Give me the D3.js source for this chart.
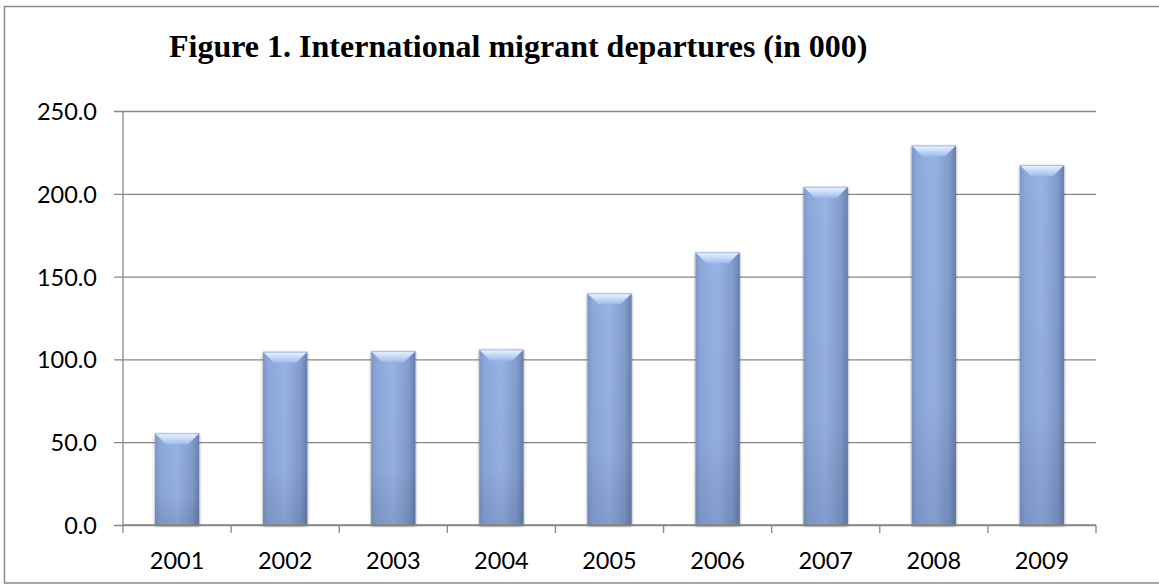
<!DOCTYPE html>
<html><head><meta charset="utf-8">
<script src="https://cdn.jsdelivr.net/npm/d3@7"></script>
<style>
html,body{margin:0;padding:0;background:#fff;}
svg{display:block;}
</style></head>
<body>
<svg id="chart" width="1159" height="584"></svg>
<script>
const titleText = "Figure 1. International migrant departures (in 000)";
const categories = ["2001","2002","2003","2004","2005","2006","2007","2008","2009"];
const values = [55.4, 104.6, 105.0, 106.0, 139.9, 164.7, 204.2, 229.2, 217.4];
const yTicks = [0, 50, 100, 150, 200, 250];

const svg = d3.select("#chart");
const W = 1159, H = 584;
const m = {left: 123, right: 1096, top: 111, bottom: 525};

// outer border
svg.append("rect").attr("x", 4.5).attr("y", 6.5).attr("width", W + 10).attr("height", 576.5)
  .attr("fill", "#fff").attr("stroke", "#8c8c8c").attr("stroke-width", 1.5);

const defs = svg.append("defs");
const g1 = defs.append("linearGradient").attr("id", "barGrad").attr("x1", "0").attr("x2", "1").attr("y1", "0").attr("y2", "0");
g1.append("stop").attr("offset", "0").attr("stop-color", "#7c97ca");
g1.append("stop").attr("offset", "0.12").attr("stop-color", "#8ca8db");
g1.append("stop").attr("offset", "0.5").attr("stop-color", "#97b3e4");
g1.append("stop").attr("offset", "0.85").attr("stop-color", "#829bcd");
g1.append("stop").attr("offset", "1").attr("stop-color", "#667fac");
const g2 = defs.append("linearGradient").attr("id", "vGrad").attr("x1", "0").attr("x2", "0").attr("y1", "0").attr("y2", "1");
g2.append("stop").attr("offset", "0").attr("stop-color", "#000").attr("stop-opacity", 0);
g2.append("stop").attr("offset", "0.7").attr("stop-color", "#000").attr("stop-opacity", 0.03);
g2.append("stop").attr("offset", "1").attr("stop-color", "#1a2f5a").attr("stop-opacity", 0.16);
const g3 = defs.append("linearGradient").attr("id", "topGrad").attr("x1", "0").attr("x2", "0").attr("y1", "0").attr("y2", "1");
g3.append("stop").attr("offset", "0").attr("stop-color", "#eef5ff");
g3.append("stop").attr("offset", "0.5").attr("stop-color", "#c6daf7");
g3.append("stop").attr("offset", "1").attr("stop-color", "#9fbbe9");
const f = defs.append("filter").attr("id", "shadow").attr("x", "-20%").attr("y", "-20%").attr("width", "140%").attr("height", "140%");
f.append("feGaussianBlur").attr("in", "SourceAlpha").attr("stdDeviation", 1.5).attr("result", "b");
f.append("feOffset").attr("in", "b").attr("dx", 0).attr("dy", 0.5).attr("result", "o");
f.append("feComponentTransfer").attr("in", "o").attr("result", "o2").append("feFuncA").attr("type", "linear").attr("slope", 0.45);
const fm = f.append("feMerge");
fm.append("feMergeNode").attr("in", "o2");
fm.append("feMergeNode").attr("in", "SourceGraphic");

const x = d3.scaleBand().domain(categories).range([m.left, m.right]).paddingInner(0.59).paddingOuter(0.295);
const y = d3.scaleLinear().domain([0, 250]).range([m.bottom, m.top]);

// title
svg.append("text").attr("x", 169).attr("y", 57)
  .attr("font-family", "'Liberation Serif','Times New Roman',serif").attr("font-weight", "bold")
  .attr("font-size", 32).attr("fill", "#000").text(titleText);

// gridlines
const yAxis = d3.axisLeft(y).tickValues(yTicks).tickSize(-(m.right - m.left)).tickPadding(0).tickFormat(d => d3.format(".1f")(d));
const ya = svg.append("g").attr("transform", `translate(${m.left},0)`).call(yAxis);
ya.select(".domain").remove();
ya.selectAll(".tick line").attr("stroke", "#878787").attr("stroke-width", 1.3).attr("x1", -9);
ya.selectAll(".tick text").attr("x", -26).attr("dy", "0.36em").attr("text-anchor", "end")
  .attr("font-family", "Lato, 'Open Sans', sans-serif").attr("font-size", 23.5).attr("fill", "#000");

// y axis line
svg.append("line").attr("x1", m.left).attr("x2", m.left).attr("y1", y(250)).attr("y2", y(0))
  .attr("stroke", "#878787").attr("stroke-width", 1.3);

// bars
const bars = svg.append("g").selectAll("g.bar").data(values).enter().append("g").attr("class", "bar");
bars.append("rect").attr("x", (d, i) => x(categories[i])).attr("width", x.bandwidth())
  .attr("y", d => y(d)).attr("height", d => y(0) - y(d)).attr("fill", "url(#barGrad)").attr("filter", "url(#shadow)");
bars.append("rect").attr("x", (d, i) => x(categories[i])).attr("width", x.bandwidth())
  .attr("y", d => y(d)).attr("height", d => y(0) - y(d)).attr("fill", "url(#vGrad)");
const bev = 11;
bars.append("path").attr("d", (d, i) => {
  const x0 = x(categories[i]), x1 = x0 + x.bandwidth(), t = y(d);
  return `M${x0},${t}L${x1},${t}L${x1 - bev},${t + bev}L${x0 + bev},${t + bev}Z`;
}).attr("fill", "url(#topGrad)");
bars.append("line").attr("x1", (d, i) => x(categories[i])).attr("x2", (d, i) => x(categories[i]) + x.bandwidth())
  .attr("y1", d => y(d) + 0.5).attr("y2", d => y(d) + 0.5).attr("stroke", "#a9bfe2").attr("stroke-width", 1);

// x axis
const xAxis = d3.axisBottom(x).tickSize(0).tickPadding(0);
const xa = svg.append("g").attr("transform", `translate(0,${m.bottom})`).call(xAxis);
xa.select(".domain").attr("stroke", "#878787").attr("stroke-width", 1.3).attr("d", `M${m.left},0H${m.right}`);
xa.selectAll(".tick text").attr("y", 44).attr("dy", 0)
  .attr("font-family", "Lato, 'Open Sans', sans-serif").attr("font-size", 23.5).attr("fill", "#000");
const bounds = categories.map(c => x(c) - x.step() * x.paddingInner() / 2).concat([m.right]);
xa.selectAll("line.bt").data(bounds).enter().append("line").attr("class", "bt")
  .attr("x1", d => d).attr("x2", d => d).attr("y1", 0).attr("y2", 8)
  .attr("stroke", "#878787").attr("stroke-width", 1.3);
</script>
</body></html>
